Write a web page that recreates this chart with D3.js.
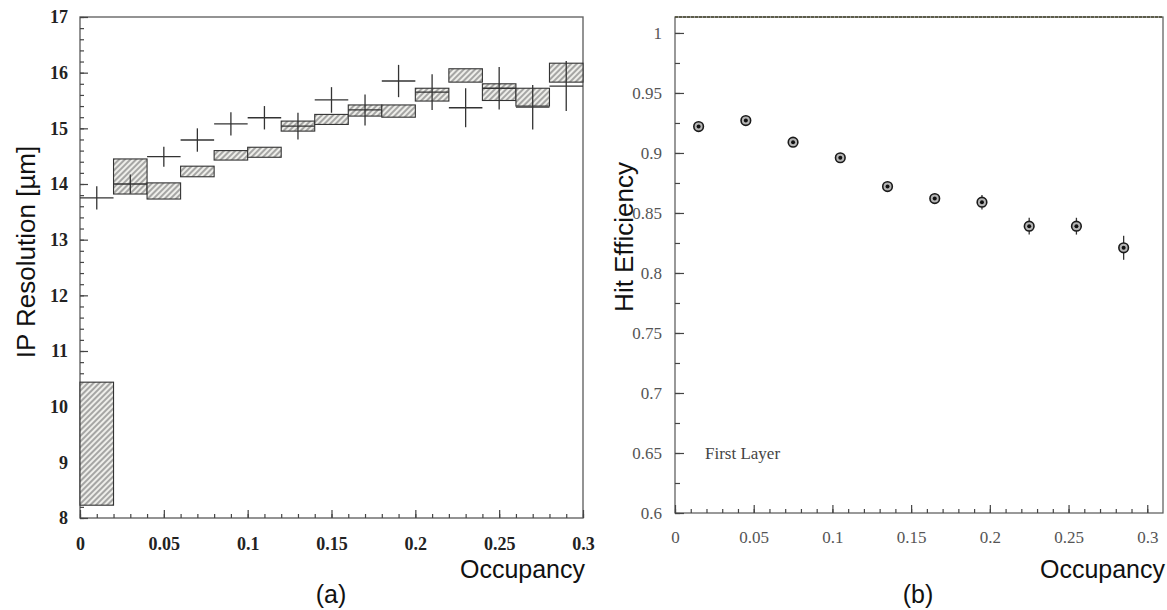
<!DOCTYPE html>
<html>
<head>
<meta charset="utf-8">
<script src="https://cdn.jsdelivr.net/npm/d3@7"></script>
<style>
  body { margin: 0; background: #fff; }
  svg { display: block; }
</style>
</head>
<body>
<div id="chart"></div>
<script>
// Panel (a): IP resolution vs occupancy, bins of 0.02
const ipOccupancy = [0.01, 0.03, 0.05, 0.07, 0.09, 0.11, 0.13, 0.15, 0.17, 0.19, 0.21, 0.23, 0.25, 0.27, 0.29];
const ipBinHalf = 0.01;
const ipData = [13.75, 14.0, 14.49, 14.79, 15.08, 15.19, 15.04, 15.51, 15.33, 15.85, 15.65, 15.37, 15.72, 15.38, 15.76];
const ipErr = [0.21, 0.17, 0.18, 0.21, 0.21, 0.21, 0.24, 0.23, 0.28, 0.29, 0.32, 0.35, 0.38, 0.40, 0.45];
const mcLow = [8.23, 13.82, 13.73, 14.13, 14.43, 14.48, 14.95, 15.07, 15.22, 15.20, 15.49, 15.83, 15.50, 15.40, 15.83];
const mcHigh = [10.44, 14.45, 14.02, 14.32, 14.60, 14.66, 15.13, 15.25, 15.42, 15.42, 15.72, 16.07, 15.80, 15.72, 16.17];
const ipXTicks = [0, 0.05, 0.1, 0.15, 0.2, 0.25, 0.3];
const ipYTicks = [8, 9, 10, 11, 12, 13, 14, 15, 16, 17];

// Panel (b): hit efficiency vs occupancy, bins of 0.03
const effOccupancy = [0.015, 0.045, 0.075, 0.105, 0.135, 0.165, 0.195, 0.225, 0.255, 0.285];
const effValues = [0.922, 0.927, 0.909, 0.896, 0.872, 0.862, 0.859, 0.839, 0.839, 0.821];
const effErr = [0.003, 0.003, 0.003, 0.003, 0.003, 0.004, 0.006, 0.007, 0.007, 0.010];
const effXTicks = [0, 0.05, 0.1, 0.15, 0.2, 0.25, 0.3];
const effYTicks = [0.6, 0.65, 0.7, 0.75, 0.8, 0.85, 0.9, 0.95, 1];

const svg = d3.select('#chart').append('svg')
    .attr('width', 1167)
    .attr('height', 610);

// hatch pattern for the shaded boxes
const pat = svg.append('defs').append('pattern')
    .attr('id', 'hatch')
    .attr('patternUnits', 'userSpaceOnUse')
    .attr('width', 4).attr('height', 4)
    .attr('patternTransform', 'rotate(45)');
pat.append('rect').attr('width', 4).attr('height', 4).attr('fill', '#eeeeea');
pat.append('line')
    .attr('x1', 1).attr('y1', 0).attr('x2', 1).attr('y2', 4)
    .attr('stroke', '#6a6a6a').attr('stroke-width', 1.1);

function styleAxis(g, font, weight, color, size) {
    g.select('.domain').remove();
    g.selectAll('line').attr('stroke', '#444').attr('stroke-width', 1.2);
    g.selectAll('text')
        .style('font-family', font)
        .style('font-weight', weight)
        .style('font-size', size + 'px')
        .attr('fill', color);
}

// ---------- Panel (a) ----------
const xA = d3.scaleLinear().domain([0, 0.3]).range([80, 583]);
const yA = d3.scaleLinear().domain([8, 17]).range([518, 17]);
const gA = svg.append('g');

gA.append('rect')
    .attr('x', xA(0)).attr('y', yA(17))
    .attr('width', xA(0.3) - xA(0)).attr('height', yA(8) - yA(17))
    .attr('fill', 'none').attr('stroke', '#666').attr('stroke-width', 1.4);

gA.append('g').attr('transform', `translate(0,${yA(8)})`)
    .call(d3.axisBottom(xA).tickValues(d3.range(0, 0.3001, 0.01)).tickSize(-4).tickFormat(''))
    .call(g => styleAxis(g, 'Liberation Serif', 'bold', '#222', 18));
gA.append('g').attr('transform', `translate(0,${yA(8)})`)
    .call(d3.axisBottom(xA).tickValues(ipXTicks).tickSize(-8).tickPadding(19).tickFormat(d => d === 0 ? '0' : d3.format('')(d)))
    .call(g => styleAxis(g, 'Liberation Serif', 'bold', '#222', 18));

gA.append('g').attr('transform', `translate(${xA(0)},0)`)
    .call(d3.axisLeft(yA).tickValues(d3.range(8, 17.001, 0.2)).tickSize(-4).tickFormat(''))
    .call(g => styleAxis(g, 'Liberation Serif', 'bold', '#222', 18));
gA.append('g').attr('transform', `translate(${xA(0)},0)`)
    .call(d3.axisLeft(yA).tickValues(ipYTicks).tickSize(-8).tickPadding(12))
    .call(g => styleAxis(g, 'Liberation Serif', 'bold', '#222', 18));

// hatched boxes
gA.selectAll('.mc').data(ipOccupancy).enter().append('rect')
    .attr('class', 'mc')
    .attr('x', d => xA(d - ipBinHalf))
    .attr('width', d => xA(d + ipBinHalf) - xA(d - ipBinHalf))
    .attr('y', (d, i) => yA(mcHigh[i]))
    .attr('height', (d, i) => yA(mcLow[i]) - yA(mcHigh[i]))
    .attr('fill', 'url(#hatch)')
    .attr('stroke', '#333').attr('stroke-width', 1.1);

// data crosses
const crosses = gA.selectAll('.cross').data(ipOccupancy).enter().append('g').attr('class', 'cross');
crosses.append('line')
    .attr('x1', d => xA(d - ipBinHalf)).attr('x2', d => xA(d + ipBinHalf))
    .attr('y1', (d, i) => yA(ipData[i])).attr('y2', (d, i) => yA(ipData[i]))
    .attr('stroke', '#333').attr('stroke-width', 1.3);
crosses.append('line')
    .attr('x1', d => xA(d)).attr('x2', d => xA(d))
    .attr('y1', (d, i) => yA(ipData[i] - ipErr[i])).attr('y2', (d, i) => yA(ipData[i] + ipErr[i]))
    .attr('stroke', '#333').attr('stroke-width', 1.3);

gA.append('text')
    .attr('transform', `translate(35,252) rotate(-90)`)
    .attr('text-anchor', 'middle')
    .style('font-family', 'Liberation Sans').style('font-size', '26px')
    .attr('fill', '#111')
    .text('IP Resolution [\u00b5m]');
gA.append('text')
    .attr('x', 585).attr('y', 578)
    .attr('text-anchor', 'end')
    .style('font-family', 'Liberation Sans').style('font-size', '25px')
    .attr('fill', '#111')
    .text('Occupancy');
gA.append('text')
    .attr('x', 331).attr('y', 603)
    .attr('text-anchor', 'middle')
    .style('font-family', 'Liberation Sans').style('font-size', '25px')
    .attr('fill', '#111')
    .text('(a)');

// ---------- Panel (b) ----------
const xB = d3.scaleLinear().domain([0, 0.31]).range([675, 1163]);
const yB = d3.scaleLinear().domain([0.6, 1.0133]).range([513, 17]);
const gB = svg.append('g');

gB.append('rect')
    .attr('x', xB(0)).attr('y', yB(1.0133))
    .attr('width', xB(0.31) - xB(0)).attr('height', yB(0.6) - yB(1.0133))
    .attr('fill', 'none').attr('stroke', '#555').attr('stroke-width', 1.2);
// top border is a darker olive line in the original
gB.append('line')
    .attr('x1', xB(0)).attr('x2', xB(0.31))
    .attr('y1', yB(1.0133)).attr('y2', yB(1.0133))
    .attr('stroke', '#4a4a30').attr('stroke-width', 1.4)
    .attr('stroke-dasharray', '3,1');

gB.append('g').attr('transform', `translate(0,${yB(0.6)})`)
    .call(d3.axisBottom(xB).tickValues(d3.range(0, 0.3001, 0.01)).tickSize(-4).tickFormat(''))
    .call(g => styleAxis(g, 'Liberation Serif', 'normal', '#555', 17));
gB.append('g').attr('transform', `translate(0,${yB(0.6)})`)
    .call(d3.axisBottom(xB).tickValues(effXTicks).tickSize(-8).tickPadding(18).tickFormat(d => d === 0 ? '0' : d3.format('')(d)))
    .call(g => styleAxis(g, 'Liberation Serif', 'normal', '#555', 17));

gB.append('g').attr('transform', `translate(${xB(0)},0)`)
    .call(d3.axisLeft(yB).tickValues(d3.range(0.6, 1.0001, 0.025)).tickSize(-5).tickFormat(''))
    .call(g => styleAxis(g, 'Liberation Serif', 'normal', '#555', 17));
gB.append('g').attr('transform', `translate(${xB(0)},0)`)
    .call(d3.axisLeft(yB).tickValues(effYTicks).tickSize(-9).tickPadding(13).tickFormat(d => d === 1 ? '1' : d3.format('')(d)))
    .call(g => styleAxis(g, 'Liberation Serif', 'normal', '#555', 17));

// error bars and markers
gB.selectAll('.err').data(effOccupancy).enter().append('line')
    .attr('class', 'err')
    .attr('x1', d => xB(d)).attr('x2', d => xB(d))
    .attr('y1', (d, i) => yB(effValues[i] - effErr[i]))
    .attr('y2', (d, i) => yB(effValues[i] + effErr[i]))
    .attr('stroke', '#333').attr('stroke-width', 1.3);
gB.selectAll('.pt').data(effOccupancy).enter().append('circle')
    .attr('class', 'pt')
    .attr('cx', d => xB(d)).attr('cy', (d, i) => yB(effValues[i]))
    .attr('r', 4.8)
    .attr('fill', '#b5b5b5').attr('stroke', '#1a1a1a').attr('stroke-width', 1.6);
gB.selectAll('.dot').data(effOccupancy).enter().append('circle')
    .attr('class', 'dot')
    .attr('cx', d => xB(d)).attr('cy', (d, i) => yB(effValues[i]))
    .attr('r', 2)
    .attr('fill', '#111');

gB.append('text')
    .attr('x', 705).attr('y', yB(0.65) + 6)
    .style('font-family', 'Liberation Serif').style('font-size', '17px')
    .attr('fill', '#444')
    .text('First Layer');

gB.append('text')
    .attr('transform', `translate(633,237) rotate(-90)`)
    .attr('text-anchor', 'middle')
    .style('font-family', 'Liberation Sans').style('font-size', '26px')
    .attr('fill', '#111')
    .text('Hit Efficiency');
gB.append('text')
    .attr('x', 1165).attr('y', 578)
    .attr('text-anchor', 'end')
    .style('font-family', 'Liberation Sans').style('font-size', '25px')
    .attr('fill', '#111')
    .text('Occupancy');
gB.append('text')
    .attr('x', 918).attr('y', 603)
    .attr('text-anchor', 'middle')
    .style('font-family', 'Liberation Sans').style('font-size', '25px')
    .attr('fill', '#111')
    .text('(b)');
</script>
</body>
</html>
